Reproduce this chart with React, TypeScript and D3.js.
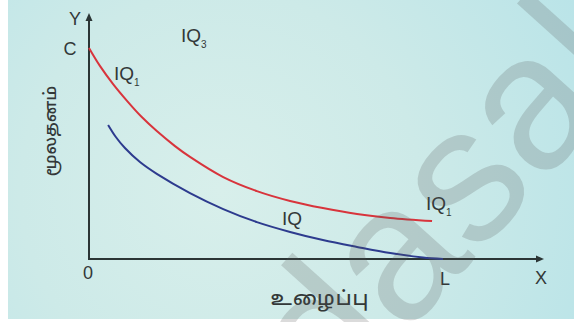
import React from "react";
import * as d3 from "d3";

// Isoquant data (labour units on X, capital units on Y)
const redLabour = [0, 0.24, 0.53, 0.84, 1.16, 1.49, 1.89, 2.22, 2.95, 3.69, 4.42, 5.14, 5.89, 6.62, 7.54];
const redCapital = [8.58, 7.85, 7.11, 6.42, 5.77, 5.2, 4.59, 4.15, 3.33, 2.76, 2.36, 2.07, 1.83, 1.67, 1.54];
const blueLabour = [0.42, 0.59, 0.79, 1.12, 1.49, 2.22, 2.95, 3.69, 4.42, 5.14, 5.89, 6.62, 7.34, 7.78];
const blueCapital = [5.45, 4.96, 4.51, 3.94, 3.46, 2.68, 2.03, 1.5, 1.1, 0.77, 0.49, 0.24, 0.06, 0];

const yAxisTitle = "மூலதனம்";
const xAxisTitle = "உழைப்பு";
const watermark = "www.Padasalai.Net";

const W = 574;
const H = 322;

export default function App() {
  const x = d3.scaleLinear().domain([0, 10]).range([89, 544]);
  const y = d3.scaleLinear().domain([0, 10]).range([259, 13]);
  const line = d3
    .line<[number, number]>()
    .x((d) => x(d[0]))
    .y((d) => y(d[1]))
    .curve(d3.curveCatmullRom.alpha(0.5));
  const red = line(redLabour.map((v, i) => [v, redCapital[i]]) as [number, number][]) || "";
  const blue = line(blueLabour.map((v, i) => [v, blueCapital[i]]) as [number, number][]) || "";

  const font = "'Liberation Sans', Arial, sans-serif";
  const tamil = "'Noto Sans Tamil', 'Lohit Tamil', 'Noto Sans', sans-serif";
  const txt = "#333838";
  const x0 = x(0);
  const y0 = y(0);
  const xEnd = x(10);
  const yEnd = y(10);
  const fs = 192;

  return (
    <svg
      width={W}
      height={H}
      style={{ position: "absolute", left: 0, top: 0, display: "block" }}
      fontFamily={font}
    >
      <defs>
        <radialGradient id="bg" cx="220" cy="190" r="400" gradientUnits="userSpaceOnUse">
          <stop offset="0" stopColor="#d8efeb" />
          <stop offset="0.5" stopColor="#cdeae8" />
          <stop offset="1" stopColor="#bae4e8" />
        </radialGradient>
      </defs>
      <rect x={0} y={0} width={W} height={H} fill="#ffffff" />
      <rect x={8} y={0} width={W - 8} height={319} fill="url(#bg)" />

      {/* axes */}
      <line x1={x0} y1={y0} x2={x0} y2={yEnd + 6} stroke="#2b3535" strokeWidth={2} />
      <path d={`M${x0},${yEnd} L${x0 - 3.5},${yEnd + 8} L${x0 + 3.5},${yEnd + 8} Z`} fill="#2b3535" />
      <line x1={x0 - 1} y1={y0} x2={xEnd - 6} y2={y0} stroke="#2b3535" strokeWidth={2} />
      <path d={`M${xEnd},${y0} L${xEnd - 8},${y0 - 3.5} L${xEnd - 8},${y0 + 3.5} Z`} fill="#2b3535" />

      {/* isoquants */}
      <path d={red} fill="none" stroke="#d8343c" strokeWidth={2} />
      <path d={blue} fill="none" stroke="#2d3b8e" strokeWidth={2} />

      {/* labels */}
      <g fill={txt} fontSize={18}>
        <text x={75} y={25} textAnchor="middle">Y</text>
        <text x={70} y={55} textAnchor="middle">C</text>
        <text x={88} y={279} textAnchor="middle">0</text>
        <text x={445} y={285} textAnchor="middle">L</text>
        <text x={541} y={284} textAnchor="middle">X</text>
      </g>
      <g fill={txt} fontSize={19}>
        <text x={181} y={42}>IQ<tspan fontSize={10} dy={6}>3</tspan></text>
        <text x={114} y={80}>IQ<tspan fontSize={10} dy={6}>1</tspan></text>
        <text x={282} y={225}>IQ</text>
        <text x={426} y={210}>IQ<tspan fontSize={10} dy={6}>1</tspan></text>
      </g>
      <text
        transform="translate(56,131) rotate(-90)"
        textAnchor="middle"
        fontFamily={tamil}
        fontSize={17}
        fontWeight={500}
        fill={txt}
      >
        {yAxisTitle}
      </text>
      <text
        x={320}
        y={305}
        textAnchor="middle"
        fontFamily={tamil}
        fontSize={20}
        fontWeight={500}
        letterSpacing={1}
        fill={txt}
      >
        {xAxisTitle}
      </text>

      {/* watermark */}
      <text
        transform="translate(478,180) rotate(-48)"
        x={-5.029 * fs}
        y={0.26 * fs}
        fontSize={fs}
        fill="#535353"
        fillOpacity={0.21}
      >
        {watermark}
      </text>
    </svg>
  );
}
